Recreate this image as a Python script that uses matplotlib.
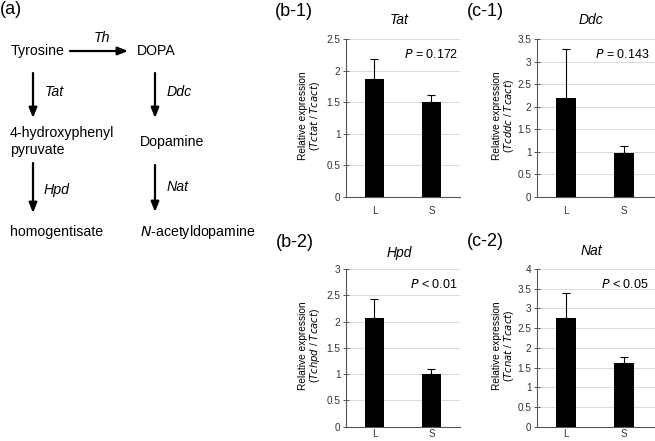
import matplotlib
matplotlib.use("Agg")
import matplotlib.pyplot as plt

plt.rcParams['font.family'] = ['Liberation Sans', 'DejaVu Sans']

categories = ["L", "S"]

tat_values = [1.86, 1.50]
tat_errors = [0.33, 0.12]
ddc_values = [2.18, 0.96]
ddc_errors = [1.10, 0.17]
hpd_values = [2.06, 1.00]
hpd_errors = [0.37, 0.09]
nat_values = [2.76, 1.62]
nat_errors = [0.62, 0.16]

panels = [
    # label, gene, values, errors, ymax, step, pvalue, op, ylabel gene
    ("(b-1)", "Tat", tat_values, tat_errors, 2.5, 0.5, "0.172", "=", "Tctat"),
    ("(c-1)", "Ddc", ddc_values, ddc_errors, 3.5, 0.5, "0.143", "=", "Tcddc"),
    ("(b-2)", "Hpd", hpd_values, hpd_errors, 3.0, 0.5, "0.01", "<", "Tchpd"),
    ("(c-2)", "Nat", nat_values, nat_errors, 4.0, 0.5, "0.05", "<", "Tcnat"),
]

W, H = 655, 441
fig = plt.figure(figsize=(W / 100, H / 100), dpi=100)

# axes rectangles in pixels: left, top, right, bottom
rects = [
    (346, 39, 460, 196.7),
    (537, 39, 655, 196.7),
    (346, 269, 460, 426.7),
    (537, 269, 655, 426.7),
]
label_pos = [(275, 11), (467, 11), (276, 243), (467, 241)]
title_y = [20, 20, 253, 251]
xlab_pad = [7, 7, 2, 2]
ylab_x = [310, 504, 310, 504]

def fx(px):
    return px / W

def fy(py):
    return 1 - py / H

for i, ((lab, gene, vals, errs, ymax, step, pval, op, yg), (l, t, r, b)) in enumerate(zip(panels, rects)):
    ax = fig.add_axes([fx(l), fy(b), fx(r) - fx(l), (b - t) / H])
    x = range(len(categories))
    ax.bar(x, vals, width=0.33, color="black", zorder=3)
    ax.errorbar(x, vals, yerr=[[0] * len(errs), errs], fmt="none", ecolor="black",
                elinewidth=0.8, capsize=3, capthick=0.8, zorder=4)
    ax.set_xlim(-0.5, 1.5 if r < 600 else 1.5 + (r - 653) / 58)
    ax.set_ylim(0, ymax)
    ticks = []
    v = 0.0
    while v <= ymax + 1e-9:
        ticks.append(round(v, 2))
        v += step
    ax.set_yticks(ticks)
    ax.set_yticklabels([("%g" % tk) for tk in ticks], fontsize=7.2, color="#333333")
    ax.set_xticks(list(x))
    ax.set_xticklabels(categories, fontsize=7.2, color="#333333")
    ax.tick_params(axis="x", length=0, pad=xlab_pad[i])
    ax.tick_params(axis="y", direction="inout", length=4, width=0.7, color="#555555", pad=2)
    ax.yaxis.grid(True, color="#d9d9d9", linewidth=0.7, zorder=0)
    ax.set_axisbelow(True)
    for s in ("top", "right"):
        ax.spines[s].set_visible(False)
    for s in ("left", "bottom"):
        ax.spines[s].set_color("#555555")
        ax.spines[s].set_linewidth(0.8)
    cx = (l + min(r, l + 116)) / 2
    fig.text(fx(cx - 4), fy(title_y[i]), gene, fontsize=10, style="italic",
             ha="center", va="center")
    fig.text(fx(ylab_x[i]), fy((t + b) / 2 - 2),
             "Relative expression\n($\\it{%s}$ / $\\it{Tcact}$)" % yg,
             fontsize=7.3, linespacing=1.0, rotation=90, ha="center", va="center",
             multialignment="center")
    ax.text(fx(l + 112), fy(t + 16), "$\\it{P}$ %s %s" % (op, pval),
            transform=fig.transFigure, ha="right", va="center", fontsize=9)
    fig.text(fx(label_pos[i][0]), fy(label_pos[i][1]), lab, fontsize=13,
             ha="left", va="center")

# Pathway diagram (panel a)
fs = 10.2
fig.text(fx(0), fy(10), "(a)", fontsize=13, ha="left", va="center")

def t(px, py, s, **kw):
    fig.text(fx(px), fy(py), s, fontsize=fs, ha="left", va="center", **kw)

t(11, 51, "Tyrosine")
t(137, 51, "DOPA")
t(10, 133, "4-hydroxyphenyl")
t(10, 150, "pyruvate")
t(140, 142, "Dopamine")
t(10, 232, "homogentisate")
t(140, 232, "$\\it{N}$-acetyldopamine")
t(94, 38, "Th", style="italic")
t(45, 92, "Tat", style="italic")
t(167, 92, "Ddc", style="italic")
t(44, 190, "Hpd", style="italic")
t(167, 187, "Nat", style="italic")

def arrow(x0, y0, x1, y1):
    fig.add_artist(matplotlib.patches.FancyArrowPatch(
        (fx(x0), fy(y0)), (fx(x1), fy(y1)), transform=fig.transFigure,
        arrowstyle="-|>,head_length=4,head_width=1.6", mutation_scale=1.5,
        color="black", linewidth=1.6, shrinkA=0, shrinkB=0))

arrow(70, 51, 128, 51)
arrow(33, 73, 33, 118)
arrow(155, 73, 155, 118)
arrow(33, 163, 33, 213)
arrow(155, 165, 155, 212)

fig.savefig("out.png", dpi=100)
